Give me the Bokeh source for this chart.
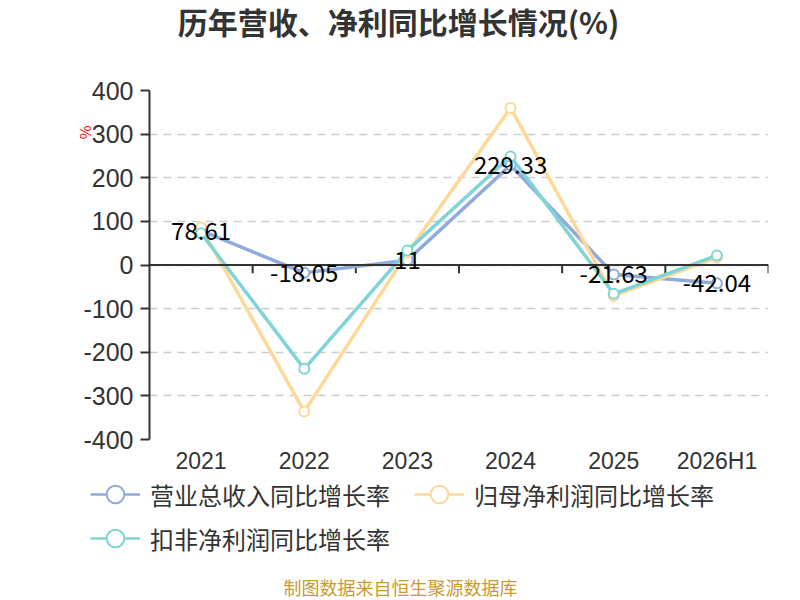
from bokeh.plotting import figure
from bokeh.layouts import column
from bokeh.models import (ColumnDataSource, Range1d, FactorRange, Span, Label, LabelSet,
                          Legend, LegendItem, Title)
from bokeh.core.properties import value
from bokeh.transform import dodge
from bokeh.embed import file_html
from bokeh.resources import INLINE

# ---- data ----
years = ["2021", "2022", "2023", "2024", "2025", "2026H1"]
revenue_yoy = [78.61, -18.05, 11, 229.33, -21.63, -42.04]      # 营业总收入同比增长率
parent_np_yoy = [86, -336, 28, 360, -71, 17]                   # 归母净利润同比增长率
deducted_np_yoy = [73, -238, 33, 249, -66, 22]                 # 扣非净利润同比增长率
series_names = ["营业总收入同比增长率", "归母净利润同比增长率", "扣非净利润同比增长率"]
title_text = "历年营收、净利同比增长情况(%)"
footer_text = "制图数据来自恒生聚源数据库"
y_ticks = [-400, -300, -200, -100, 0, 100, 200, 300, 400]

FONT = "Noto Sans CJK SC"
NUMFONT = "Liberation Sans"
C_BLUE = "#8faadc"
C_YELLOW = "#ffd898"
C_TEAL = "#80d4d6"
TXT = "#333333"
W = 800


def blank(h):
    f = figure(width=W, height=h, x_range=Range1d(0, 1), y_range=Range1d(0, 1),
               x_axis_type=None, y_axis_type=None, output_backend="svg",
               toolbar_location=None, min_border=0, frame_align=False)
    f.outline_line_color = None
    f.xgrid.grid_line_color = None
    f.ygrid.grid_line_color = None
    return f


# ---- title strip ----
top = blank(45)
top.add_layout(Label(x=398, y=25, x_units="screen", y_units="screen", text=title_text,
                     text_align="center", text_baseline="middle", text_font=FONT,
                     text_font_size="30px", text_font_style="bold", text_color=TXT))

# ---- main chart ----
p = figure(width=W, height=431, x_range=FactorRange(*years, range_padding=0),
           y_range=Range1d(-400, 400), output_backend="svg", toolbar_location=None,
           min_border_left=149, min_border_right=32, min_border_top=45, min_border_bottom=35,
           frame_align=False)
p.outline_line_color = None

p.yaxis.ticker = y_ticks
p.yaxis.major_label_overrides = {v: str(v) for v in y_ticks}
p.yaxis.axis_line_color = TXT
p.yaxis.axis_line_width = 2
p.yaxis.major_tick_line_color = TXT
p.yaxis.major_tick_line_width = 2
p.yaxis.major_tick_out = 9
p.yaxis.major_tick_in = 0
p.yaxis.minor_tick_line_color = None
p.yaxis.major_label_text_font = NUMFONT
p.yaxis.major_label_text_font_size = "25px"
p.yaxis.major_label_text_color = TXT
p.yaxis.major_label_standoff = 7

p.xaxis.axis_line_color = None
p.xaxis.major_tick_line_color = None
p.xaxis.major_tick_out = 0
p.xaxis.major_tick_in = 0
p.xaxis.minor_tick_line_color = None
p.xaxis.major_label_text_font = NUMFONT
p.xaxis.major_label_text_font_size = "23px"
p.xaxis.major_label_text_color = TXT
p.xaxis.major_label_standoff = 8

p.xgrid.grid_line_color = None
p.ygrid.ticker = y_ticks
p.ygrid.grid_line_color = "#cccccc"
p.ygrid.grid_line_width = 1.5
p.ygrid.grid_line_dash = "8 6"

# y-axis name "%"
p.add_layout(Title(text="%", align="right", offset=35, standoff=-28, text_font=FONT,
                   text_font_size="15px", text_font_style="normal", text_color="red"), "left")

p.add_layout(Span(location=0, dimension="width", line_color=TXT, line_width=2))
src = ColumnDataSource(dict(x=years, rev=revenue_yoy, par=parent_np_yoy, ded=deducted_np_yoy,
                            label=[f"{v:g}" for v in revenue_yoy],
                            y0=[0] * len(years), y1=[-19] * len(years)))
p.segment(x0=dodge("x", 0.5, range=p.x_range), x1=dodge("x", 0.5, range=p.x_range),
          y0="y0", y1="y1", source=src, line_color=TXT, line_width=2)

for col, color in (("rev", C_BLUE), ("par", C_YELLOW), ("ded", C_TEAL)):
    p.line("x", col, source=src, line_color=color, line_width=3.5)
    p.scatter("x", col, source=src, size=10, marker="circle", fill_color="white",
              line_color=color, line_width=2)

p.add_layout(LabelSet(x="x", y="rev", text="label", source=src, text_align="center",
                      text_baseline="middle", text_font=value(FONT), text_font_size="24px",
                      text_color="black"))

# ---- legend + footer strip ----
bot = blank(124)
items = []
for name, color in zip(series_names, (C_BLUE, C_YELLOW, C_TEAL)):
    proxy = ColumnDataSource(dict(x=[float("nan")], y=[float("nan")]))
    lr = bot.line("x", "y", source=proxy, line_color=color, line_width=2.5)
    sr = bot.scatter("x", "y", source=proxy, size=20, marker="circle", fill_color="white",
                     line_color=color, line_width=2)
    items.append(LegendItem(label=name, renderers=[lr, sr]))
legend = Legend(items=items, orientation="horizontal", ncols=2, location=(90, 40),
                glyph_width=50, glyph_height=44, label_standoff=10, spacing=0,
                label_width=264, label_height=24,
                padding=0, margin=0, border_line_color=None, background_fill_alpha=0,
                label_text_font=FONT, label_text_font_size="24px", label_text_color=TXT)
bot.add_layout(legend)
bot.add_layout(Label(x=400, y=14, x_units="screen", y_units="screen", text=footer_text,
                     text_align="center", text_baseline="middle", text_font=FONT,
                     text_font_size="18px", text_color="#c99a2e"))

layout = column(top, p, bot, spacing=0)
open("out.html", "w").write(file_html(layout, INLINE))
